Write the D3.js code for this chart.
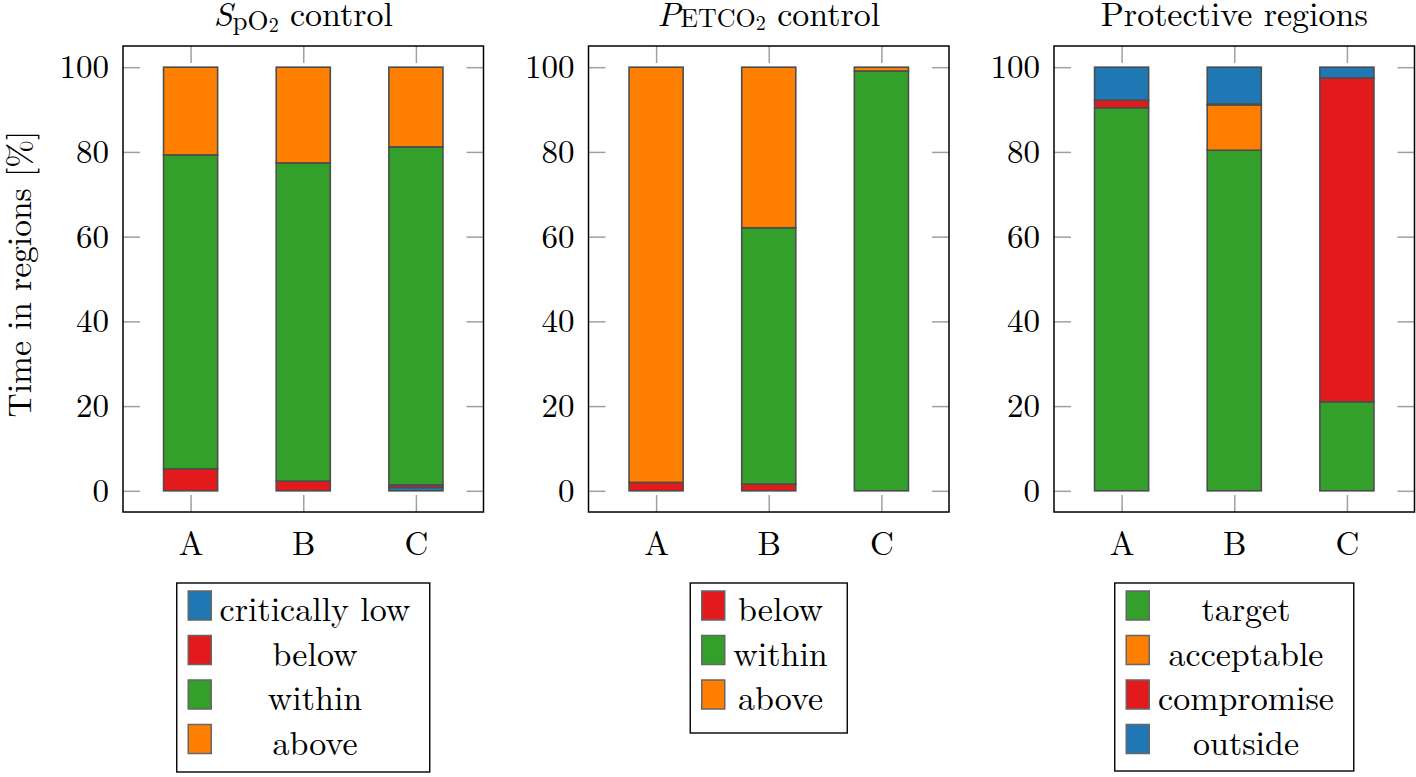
<!DOCTYPE html>
<html>
<head>
<meta charset="utf-8">
<script src="https://cdn.jsdelivr.net/npm/d3@7"></script>
<style>
  html, body { margin: 0; padding: 0; background: #fff; }
  svg { display: block; }
</style>
</head>
<body>
<svg id="chart" width="1416" height="777"></svg>
<script>
// ---------- data ----------
const categories = ["A", "B", "C"];
const yTickValues = [0, 20, 40, 60, 80, 100];
const yLabel = "Time in regions [%]";

// Panel 1: SpO2 control
const spo2Keys = ["critically low", "below", "within", "above"];
const spo2CriticallyLow = [0.0, 0.0, 0.8];
const spo2Below = [5.2, 2.3, 0.6];
const spo2Within = [74.1, 75.1, 79.8];
const spo2Above = [20.7, 22.6, 18.8];

// Panel 2: PETCO2 control
const petco2Keys = ["below", "within", "above"];
const petco2Below = [2.0, 1.6, 0.0];
const petco2Within = [0.0, 60.5, 99.1];
const petco2Above = [98.0, 37.9, 0.9];

// Panel 3: Protective regions
const protKeys = ["target", "acceptable", "compromise", "outside"];
const protTarget = [90.4, 80.4, 21.0];
const protAcceptable = [0.0, 10.7, 0.0];
const protCompromise = [1.8, 0.2, 76.5];
const protOutside = [7.8, 8.7, 2.5];

// ---------- styling ----------
const FONT = '"Latin Modern Roman"';
const BLUE = "#1f78b4", RED = "#e31a1c", GREEN = "#33a02c", ORANGE = "#ff7f00";
const colorOf = {
  "critically low": BLUE, "below": RED, "within": GREEN, "above": ORANGE,
  "target": GREEN, "acceptable": ORANGE, "compromise": RED, "outside": BLUE
};

const panels = [
  { title: "spo2", keys: spo2Keys, series: [spo2CriticallyLow, spo2Below, spo2Within, spo2Above],
    left: 123, right: 483.5, legend: { w: 253, h: 189 } },
  { title: "petco2", keys: petco2Keys, series: [petco2Below, petco2Within, petco2Above],
    left: 588.5, right: 949, legend: { w: 157, h: 150 } },
  { title: "prot", keys: protKeys, series: [protTarget, protAcceptable, protCompromise, protOutside],
    left: 1054, right: 1414.5, legend: { w: 239, h: 188 } }
];

const TOP = 46, BOTTOM = 512;
const FS = 33, FS_BIG = 34;
const svg = d3.select("#chart");

function txt(sel, size) {
  return sel.style("font-family", FONT).style("font-size", (size || FS) + "px").attr("fill", "#000");
}

panels.forEach((p, pi) => {
  const g = svg.append("g");
  const x = d3.scaleLinear().domain([-0.6, categories.length - 1 + 0.6]).range([p.left, p.right]);
  const y = d3.scaleLinear().domain([-5, 105]).range([BOTTOM, TOP]);
  const halfW = x(0.24) - x(0);

  const table = categories.map((c, i) => {
    const row = { cat: c, idx: i };
    p.keys.forEach((k, j) => row[k] = p.series[j][i]);
    return row;
  });
  const stacked = d3.stack().keys(p.keys)(table);

  stacked.forEach(layer => {
    g.append("g").selectAll("rect").data(layer).join("rect")
      .attr("x", d => x(d.data.idx) - halfW)
      .attr("width", 2 * halfW)
      .attr("y", d => y(d[1]))
      .attr("height", d => y(d[0]) - y(d[1]))
      .attr("fill", colorOf[layer.key])
      .attr("stroke", "#4d4d4d")
      .attr("stroke-width", 1.6);
  });

  const styleAxis = sel => {
    sel.attr("font-family", null).attr("font-size", null);
    sel.select(".domain").remove();
    sel.selectAll(".tick line").attr("stroke", "#a0a0a0").attr("stroke-width", 1.5);
    sel.selectAll(".tick text").call(txt);
  };
  g.append("g").attr("transform", `translate(${p.left},0)`)
    .call(d3.axisLeft(y).tickValues(yTickValues).tickSize(-17).tickPadding(14))
    .call(styleAxis);
  g.append("g").attr("transform", `translate(${p.right},0)`)
    .call(d3.axisRight(y).tickValues(yTickValues).tickSize(-17).tickFormat(""))
    .call(styleAxis);
  g.append("g").attr("transform", `translate(0,${BOTTOM})`)
    .call(d3.axisBottom(x).tickValues(categories.map((c, i) => i)).tickSize(-17).tickPadding(20)
      .tickFormat(i => categories[i]))
    .call(styleAxis);
  g.append("g").attr("transform", `translate(0,${TOP})`)
    .call(d3.axisTop(x).tickValues(categories.map((c, i) => i)).tickSize(-17).tickFormat(""))
    .call(styleAxis);

  g.append("rect").attr("x", p.left).attr("y", TOP)
    .attr("width", p.right - p.left).attr("height", BOTTOM - TOP)
    .attr("fill", "none").attr("stroke", "#000").attr("stroke-width", 1.5);

  // title
  const cx = (p.left + p.right) / 2;
  const t = g.append("text").attr("x", cx).attr("y", 26).attr("text-anchor", "middle").call(txt, FS_BIG);
  if (p.title === "spo2") {
    t.append("tspan").attr("font-style", "italic").text("S");
    t.append("tspan").style("font-size", "27px").attr("dy", 4).text("pO");
    t.append("tspan").style("font-size", "20px").attr("dy", 2).text("2");
    t.append("tspan").attr("dy", -6).text(" control");
  } else if (p.title === "petco2") {
    t.append("tspan").attr("font-style", "italic").text("P");
    t.append("tspan").style("font-size", "26px").attr("dy", 1).text("ETCO");
    t.append("tspan").style("font-size", "20px").attr("dy", 3).text("2");
    t.append("tspan").attr("dy", -4).text(" control");
  } else {
    t.text("Protective regions");
  }

  // legend
  const L = p.legend;
  const lx = cx - L.w / 2, ly = 583;
  const lg = g.append("g");
  lg.append("rect").attr("x", lx).attr("y", ly).attr("width", L.w).attr("height", L.h)
    .attr("fill", "#fff").attr("stroke", "#000").attr("stroke-width", 1.4);
  const swX = lx + 11.5, swW = 23, swH = 29;
  const textCx = (swX + swW + lx + L.w - 11) / 2;
  p.keys.forEach((k, j) => {
    const sy = ly + 8 + j * 44.5;
    lg.append("rect").attr("x", swX).attr("y", sy).attr("width", swW).attr("height", swH)
      .attr("fill", colorOf[k]).attr("stroke", "#666").attr("stroke-width", 1.5);
    lg.append("text").attr("x", textCx).attr("y", sy + 30).attr("text-anchor", "middle")
      .call(txt, FS_BIG).text(k);
  });

  if (pi === 0) {
    svg.append("text").attr("transform", `translate(31,274) rotate(-90)`)
      .attr("text-anchor", "middle").call(txt, 33.5).text(yLabel);
  }
});
</script>
</body>
</html>
